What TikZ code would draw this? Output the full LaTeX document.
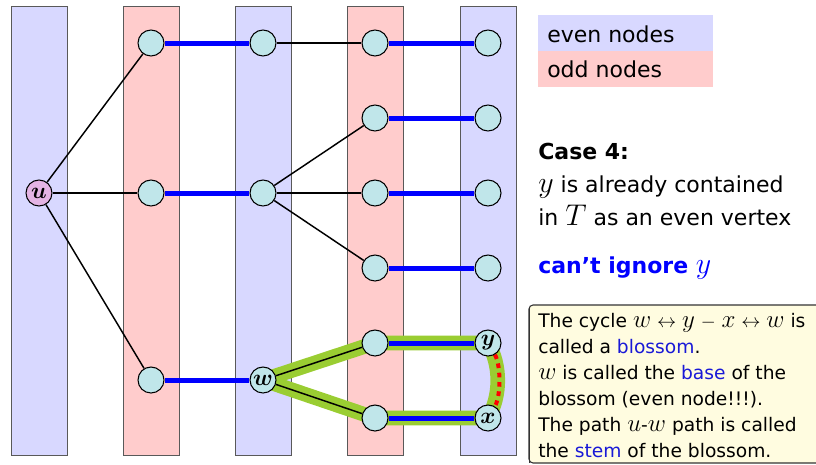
\documentclass[tikz,border=0pt]{standalone}
\usepackage{fontspec}
\setmainfont{DejaVu Sans}
\usepackage{bm}
\usepackage{graphicx}
\usetikzlibrary{backgrounds}
\definecolor{evenc}{RGB}{216,216,255}
\definecolor{oddc}{RGB}{255,204,204}
\definecolor{nodec}{RGB}{192,230,234}
\definecolor{uc}{RGB}{228,180,228}
\definecolor{greenc}{RGB}{154,205,50}
\definecolor{boxc}{RGB}{255,252,224}
\definecolor{txtblue}{RGB}{25,25,215}
\newcommand\mv[1]{\scalebox{1.3}{$#1$}}
\newcommand\gp{\hspace{4.4pt}}
\begin{document}
\begin{tikzpicture}[x=0.75pt,y=-0.75pt,
  stripe/.style={draw=black!65, line width=0.6pt},
  vtx/.style={circle, draw=black, line width=0.8pt, fill=nodec, minimum size=19.5pt, inner sep=0pt, font=\fontsize{16}{16}\selectfont},
  match/.style={blue, line width=3.75pt},
  edge/.style={black, line width=1.1pt},
  blossom/.style={greenc, line width=11pt, line join=round},
  txt/.style={anchor=base west, inner sep=0pt, font=\fontsize{16.5}{20}\selectfont},
  boldtxt/.style={anchor=base west, inner sep=0pt, font=\fontsize{16.5}{20}\selectfont\bfseries},
  boxtxt/.style={anchor=base west, inner sep=0pt, font=\fontsize{14}{17}\selectfont}]
\useasboundingbox (0,0) rectangle (816,464);

% nodes
\node[vtx, fill=uc] (u) at (39,193) {$\bm{u}$};
\node[vtx] (a1) at (151,43) {};
\node[vtx] (a2) at (151,193) {};
\node[vtx] (a3) at (151,380) {};
\node[vtx] (b1) at (263,43) {};
\node[vtx] (b2) at (263,193) {};
\node[vtx] (w) at (263,380) {$\bm{w}$};
\node[vtx] (c1) at (375,43) {};
\node[vtx] (c2) at (375,118) {};
\node[vtx] (c3) at (375,193) {};
\node[vtx] (c4) at (375,268) {};
\node[vtx] (c5) at (375,343) {};
\node[vtx] (c6) at (375,418) {};
\node[vtx] (d1) at (488,43) {};
\node[vtx] (d2) at (488,118) {};
\node[vtx] (d3) at (488,193) {};
\node[vtx] (d4) at (488,268) {};
\node[vtx] (y) at (488,343) {$\bm{y}$};
\node[vtx] (x) at (488,418) {$\bm{x}$};

\begin{scope}[on background layer]
  \filldraw[stripe, fill=evenc] (11,6) rectangle (67,455);
  \filldraw[stripe, fill=oddc] (123,6) rectangle (179,455);
  \filldraw[stripe, fill=evenc] (235,6) rectangle (291,455);
  \filldraw[stripe, fill=oddc] (347,6) rectangle (403,455);
  \filldraw[stripe, fill=evenc] (460,6) rectangle (516,455);

  \draw[blossom] (w.center) -- (c5.center) -- (y.center)
     .. controls (501,365) and (501,396) .. (x.center) -- (c6.center) -- cycle;

  \draw[edge] (u) -- (a1);
  \draw[edge] (u) -- (a2);
  \draw[edge] (u) -- (a3);
  \draw[edge] (b1) -- (c1);
  \draw[edge] (b2) -- (c2);
  \draw[edge] (b2) -- (c3);
  \draw[edge] (b2) -- (c4);
  \draw[edge] (w) -- (c5);
  \draw[edge] (w) -- (c6);

  \draw[match] (a1) -- (b1);
  \draw[match] (a2) -- (b2);
  \draw[match] (a3) -- (w);
  \draw[match] (c1) -- (d1);
  \draw[match] (c2) -- (d2);
  \draw[match] (c3) -- (d3);
  \draw[match] (c4) -- (d4);
  \draw[match] (c5) -- (y);
  \draw[match] (c6) -- (x);

  \draw[red, line width=3pt, dash pattern=on 3.5pt off 3.5pt]
     (y) .. controls (501,365) and (501,396) .. (x);
\end{scope}

% legend
\fill[evenc] (538,15) rectangle (713,51);
\fill[oddc] (538,51) rectangle (713,87);
\node[txt] (leven) at (547,42) {even nodes};
\node[txt] (lodd) at (547,77) {odd nodes};

% case text
\node[boldtxt] (case) at (538,159) {Case 4:};
\node[txt] (t1) at (538,192) {\mv{y} is already contained};
\node[txt] (t2) at (538,225) {in \mv{T} as an even vertex};
\node[boldtxt, text=blue] (t3) at (538,273) {can’t ignore \mv{y}};

% info box
\filldraw[fill=boxc, draw=black!80, line width=0.8pt, rounded corners=3pt] (529,305) rectangle (840,463);
\draw[black!80, line width=1.2pt] (529.5,308) -- (529.5,463);
\node[boxtxt] (b1l) at (538,327) {The cycle \mv{w}\gp{$\leftrightarrow$}\gp\mv{y}\gp{$-$}\gp\mv{x}\gp{$\leftrightarrow$}\gp\mv{w} is};
\node[boxtxt] (b2l) at (538,353) {called a \textcolor{txtblue}{blossom}.};
\node[boxtxt] (b3l) at (538,379) {\mv{w} is called the \textcolor{txtblue}{base} of the};
\node[boxtxt] (b4l) at (538,405) {blossom (even node!!!).};
\node[boxtxt] (b5l) at (538,431) {The path \mv{u}-\mv{w} path is called};
\node[boxtxt] (b6l) at (538,457) {the \textcolor{txtblue}{stem} of the blossom.};
\end{tikzpicture}
\end{document}
